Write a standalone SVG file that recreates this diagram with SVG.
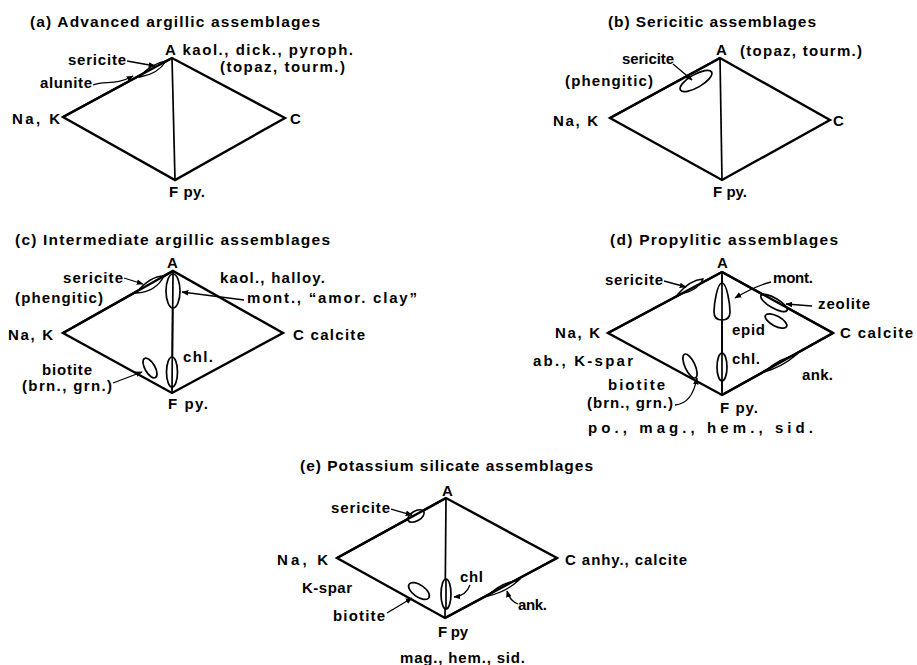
<svg xmlns="http://www.w3.org/2000/svg" width="917" height="665" viewBox="0 0 917 665">
<style>
text{font-family:"Liberation Sans",Arial,sans-serif;font-weight:bold;font-size:15px;fill:#000}
.t{font-size:15.5px}
.edge{fill:none;stroke:#000;stroke-width:2.4;stroke-linejoin:miter}
.vert{fill:none;stroke:#000;stroke-width:1.7}
.e2{stroke-width:2.4}
.ov{fill:#fff;stroke:#000;stroke-width:1.7}
.lens{fill:#fff;stroke:#000;stroke-width:1.4}
.arr{fill:none;stroke:#000;stroke-width:1.3;marker-end:url(#ah)}
</style>
<defs>
<marker id="ah" viewBox="0 0 10 10" refX="9" refY="5" markerWidth="7" markerHeight="7" markerUnits="userSpaceOnUse" orient="auto"><path d="M0,1 L10,5 L0,9 z" fill="#000"/></marker>
</defs>
<rect width="917" height="665" fill="#fff"/>

<g id="panel-a">
<text class="t" x="30" y="27" textLength="290" lengthAdjust="spacing">(a) Advanced argillic assemblages</text>
<g id="diamond-a">
<polygon class="edge" points="63,117 172,58 285,118 175,180"/>
<line class="vert" x1="172" y1="58" x2="175" y2="180"/>
<path class="lens" d="M140 77 Q150 64 166 61 Q158 74 140 77 Z"/>
<line class="vert e2" x1="172" y1="58" x2="63" y2="117"/>
</g>
<text x="165" y="55" textLength="188" lengthAdjust="spacing">A kaol., dick., pyroph.</text>
<text x="220" y="72" textLength="125" lengthAdjust="spacing">(topaz, tourm.)</text>
<text x="68" y="65" textLength="58" lengthAdjust="spacing">sericite</text>
<text x="40" y="88" textLength="52" lengthAdjust="spacing">alunite</text>
<text x="12" y="124" textLength="48" lengthAdjust="spacing">Na, K</text>
<text x="290" y="124">C</text>
<text x="169" y="197" textLength="36" lengthAdjust="spacing">F py.</text>
<g id="connectors-a">
<line class="arr" x1="127" y1="61" x2="155" y2="66"/>
<path class="arr" d="M93 85 C105 80 115 86 133 76"/>
</g>
</g>

<g id="panel-b">
<text class="t" x="608" y="27" textLength="208" lengthAdjust="spacing">(b) Sericitic assemblages</text>
<g id="diamond-b">
<polygon class="edge" points="610,118 720,58 830,120 722,180"/>
<line class="vert" x1="720" y1="58" x2="722" y2="180"/>
<ellipse class="ov" cx="696" cy="81" rx="18" ry="6.5" transform="rotate(-30 696 81)"/>
<line class="vert e2" x1="720" y1="58" x2="610" y2="118"/>
</g>
<text x="716" y="55">A</text>
<text x="740" y="56" textLength="122" lengthAdjust="spacing">(topaz, tourm.)</text>
<text x="622" y="64" textLength="52" lengthAdjust="spacing">sericite</text>
<text x="565" y="86" textLength="88" lengthAdjust="spacing">(phengitic)</text>
<text x="553" y="126" textLength="45" lengthAdjust="spacing">Na, K</text>
<text x="833" y="126">C</text>
<text x="713" y="197" textLength="34" lengthAdjust="spacing">F py.</text>
<g id="connectors-b">
<line class="arr" x1="673" y1="64" x2="692" y2="80"/>
</g>
</g>

<g id="panel-c">
<text class="t" x="15" y="245" textLength="315" lengthAdjust="spacing">(c) Intermediate argillic assemblages</text>
<g id="diamond-c">
<polygon class="edge" points="63,333 173,271 283,333 172,393"/>
<line class="vert" x1="173" y1="271" x2="172" y2="393"/>
<path class="lens" d="M136 293 Q150 276 164 276 Q156 292 136 293 Z"/>
<line class="vert e2" x1="173" y1="271" x2="63" y2="333"/>
<ellipse class="ov" cx="173" cy="291" rx="7" ry="17"/>
<ellipse class="ov" cx="172" cy="372" rx="5.5" ry="15"/>
<line class="vert" x1="173" y1="274" x2="172" y2="390"/>
<ellipse class="ov" cx="150" cy="368" rx="5" ry="11" transform="rotate(-30 150 368)"/>
</g>
<text x="167" y="268">A</text>
<text x="63" y="283" textLength="60" lengthAdjust="spacing">sericite</text>
<text x="15" y="303" textLength="88" lengthAdjust="spacing">(phengitic)</text>
<text x="220" y="283" textLength="105" lengthAdjust="spacing">kaol., halloy.</text>
<text x="247" y="303" textLength="170" lengthAdjust="spacing">mont., “amor. clay”</text>
<text x="8" y="340" textLength="45" lengthAdjust="spacing">Na, K</text>
<text x="293" y="340" textLength="72" lengthAdjust="spacing">C calcite</text>
<text x="183" y="362" textLength="30" lengthAdjust="spacing">chl.</text>
<text x="42" y="375" textLength="50" lengthAdjust="spacing">biotite</text>
<text x="22" y="391" textLength="90" lengthAdjust="spacing">(brn., grn.)</text>
<text x="168" y="409" textLength="40" lengthAdjust="spacing">F py.</text>
<g id="connectors-c">
<line class="arr" x1="124" y1="278" x2="143" y2="284"/>
<line class="arr" x1="244" y1="300" x2="182" y2="292"/>
<line class="arr" x1="113" y1="383" x2="142" y2="372"/>
</g>
</g>

<g id="panel-d">
<text class="t" x="610" y="245" textLength="228" lengthAdjust="spacing">(d) Propylitic assemblages</text>
<g id="diamond-d">
<polygon class="edge" points="608,333 722,272 833,333 722,395"/>
<line class="vert" x1="722" y1="272" x2="722" y2="395"/>
<path class="lens" d="M678 294 Q690 280 703 279 Q697 292 678 294 Z"/>
<line class="vert e2" x1="722" y1="272" x2="608" y2="333"/>
<ellipse class="ov" cx="774" cy="303" rx="15" ry="5" transform="rotate(30 774 303)"/>
<line class="vert e2" x1="722" y1="272" x2="833" y2="333"/>
<path class="lens" d="M764 372 Q780 358 796 355 Q782 367 764 372 Z"/>
<line class="vert e2" x1="722" y1="395" x2="833" y2="333"/>
<path class="ov" d="M722 283 C727 283 730 305 730 312 C730 318 726 320 722 320 C718 320 714 318 714 312 C714 305 717 283 722 283 Z"/>
<ellipse class="ov" cx="722" cy="367" rx="5" ry="14"/>
<line class="vert" x1="722" y1="275" x2="722" y2="392"/>
<ellipse class="ov" cx="776" cy="321" rx="12" ry="5" transform="rotate(28 776 321)"/>
<ellipse class="ov" cx="690" cy="366" rx="5" ry="13" transform="rotate(-25 690 366)"/>
</g>
<text x="717" y="268">A</text>
<text x="605" y="285" textLength="58" lengthAdjust="spacing">sericite</text>
<text x="773" y="283" textLength="40" lengthAdjust="spacing">mont.</text>
<text x="818" y="309" textLength="52" lengthAdjust="spacing">zeolite</text>
<text x="732" y="335" textLength="33" lengthAdjust="spacing">epid</text>
<text x="555" y="338" textLength="45" lengthAdjust="spacing">Na, K</text>
<text x="840" y="338" textLength="73" lengthAdjust="spacing">C calcite</text>
<text x="533" y="366" textLength="100" lengthAdjust="spacing">ab., K-spar</text>
<text x="732" y="364" textLength="28" lengthAdjust="spacing">chl.</text>
<text x="802" y="380" textLength="31" lengthAdjust="spacing">ank.</text>
<text x="608" y="390" textLength="57" lengthAdjust="spacing">biotite</text>
<text x="587" y="408" textLength="86" lengthAdjust="spacing">(brn., grn.)</text>
<text x="720" y="413" textLength="38" lengthAdjust="spacing">F py.</text>
<text x="588" y="433" textLength="225" lengthAdjust="spacing">po., mag., hem., sid.</text>
<g id="connectors-d">
<line class="arr" x1="664" y1="281" x2="686" y2="287"/>
<path class="arr" d="M771 282 Q755 286 735 298"/>
<line class="arr" x1="812" y1="306" x2="786" y2="304"/>
<path class="arr" d="M675 405 Q692 404 697 378"/>
</g>
</g>

<g id="panel-e">
<text class="t" x="300" y="471" textLength="293" lengthAdjust="spacing">(e) Potassium silicate assemblages</text>
<g id="diamond-e">
<polygon class="edge" points="337,558 446,498 557,558 445,618"/>
<line class="vert" x1="446" y1="498" x2="445" y2="618"/>
<ellipse class="ov" cx="416" cy="516" rx="9" ry="5" transform="rotate(-30 416 516)"/>
<line class="vert e2" x1="446" y1="498" x2="337" y2="558"/>
<path class="lens" d="M488 596 Q500 583 519 580 Q506 592 488 596 Z"/>
<line class="vert e2" x1="445" y1="618" x2="557" y2="558"/>
<ellipse class="ov" cx="446" cy="594" rx="5" ry="15"/>
<line class="vert" x1="446" y1="580" x2="446" y2="608"/>
<ellipse class="ov" cx="419" cy="591" rx="12" ry="6" transform="rotate(35 419 591)"/>
</g>
<text x="442" y="496">A</text>
<text x="331" y="513" textLength="59" lengthAdjust="spacing">sericite</text>
<text x="277" y="565" textLength="51" lengthAdjust="spacing">Na, K</text>
<text x="565" y="565" textLength="122" lengthAdjust="spacing">C anhy., calcite</text>
<text x="460" y="582" textLength="23" lengthAdjust="spacing">chl</text>
<text x="302" y="593" textLength="50" lengthAdjust="spacing">K-spar</text>
<text x="518" y="610" textLength="29" lengthAdjust="spacing">ank.</text>
<text x="333" y="621" textLength="52" lengthAdjust="spacing">biotite</text>
<text x="438" y="637" textLength="30" lengthAdjust="spacing">F py</text>
<text x="400" y="663" textLength="125" lengthAdjust="spacing">mag., hem., sid.</text>
<g id="connectors-e">
<line class="arr" x1="391" y1="509" x2="412" y2="515"/>
<path class="arr" d="M470 585 Q466 596 454 597"/>
<line class="arr" x1="387" y1="613" x2="412" y2="598"/>
<path class="arr" d="M518 604 Q510 601 507 591"/>
</g>
</g>
</svg>
